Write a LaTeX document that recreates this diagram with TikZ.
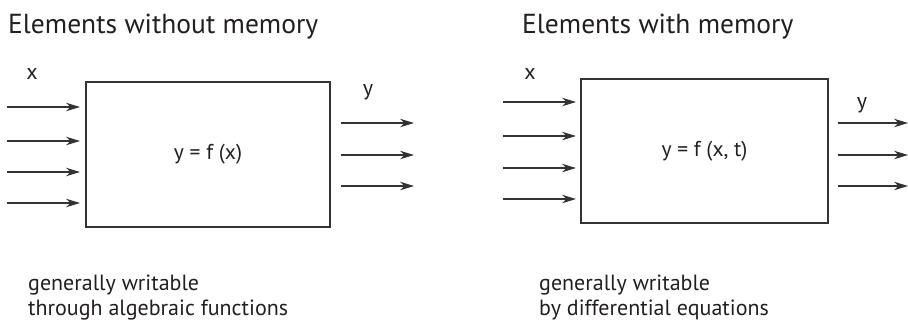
\documentclass[tikz,border=0pt]{standalone}
\usepackage{fontspec}
\setmainfont{PT Sans}
\usetikzlibrary{arrows.meta}
\definecolor{ink}{HTML}{231F20}
\definecolor{linec}{HTML}{333333}
\tikzset{
  title/.style={anchor=base west, inner sep=0pt, text=ink, font=\fontsize{27.5}{32}\selectfont},
  body/.style={anchor=base west, inner sep=0pt, text=ink, font=\fontsize{22}{26}\selectfont, align=left},
  lbl/.style={inner sep=0pt, text=ink, font=\fontsize{22}{26}\selectfont},
  blockbox/.style={draw=linec, line width=1.3pt, inner sep=0pt, text=ink, font=\fontsize{21.5}{25}\selectfont},
  arr/.style={draw=linec, line width=1.3pt, -{Stealth[length=14pt,width=8.5pt,inset=4.5pt]}},
}
\begin{document}
\begin{tikzpicture}[x=1pt,y=-1pt]
\useasboundingbox (0,0) rectangle (908,322);
% titles
\node[title] (t1) at (8,33) {Elements without memory};
\node[title] (t2) at (522,33) {Elements with memory};
% boxes
\node[blockbox, minimum width=244pt, minimum height=145pt] (b1) at (208,154.5) {y = f (x)};
\node[blockbox, minimum width=247pt, minimum height=144pt] (b2) at (704.5,151) {y = f (x, t)};
% labels
\node[lbl] (x1) at (32,74) {x};
\node[lbl] (y1) at (368,92) {y};
\node[lbl] (x2) at (530,74) {x};
\node[lbl] (y2) at (862,105) {y};
% input arrows left
\foreach \i/\yy in {1/107,2/141,3/172,4/203}{
  \coordinate (a\i s) at (7,\yy);
  \coordinate (a\i e) at (80,\yy);
  \draw[arr] (a\i s) -- (a\i e);
}
% output arrows left
\foreach \i/\yy in {1/123,2/155,3/186}{
  \coordinate (o\i s) at (341,\yy);
  \coordinate (o\i e) at (414,\yy);
  \draw[arr] (o\i s) -- (o\i e);
}
% input arrows right
\foreach \i/\yy in {1/102,2/136,3/168,4/199}{
  \coordinate (c\i s) at (503,\yy);
  \coordinate (c\i e) at (576,\yy);
  \draw[arr] (c\i s) -- (c\i e);
}
% output arrows right
\foreach \i/\yy in {1/123,2/155,3/186}{
  \coordinate (p\i s) at (838,\yy);
  \coordinate (p\i e) at (908,\yy);
  \draw[arr] (p\i s) -- (p\i e);
}
% bottom texts
\node[body] (d1a) at (28,290) {generally writable};
\node[body] (d1b) at (28,315) {through algebraic functions};
\node[body] (d2a) at (539,290) {generally writable};
\node[body] (d2b) at (539,315) {by differential equations};
\end{tikzpicture}
\end{document}
